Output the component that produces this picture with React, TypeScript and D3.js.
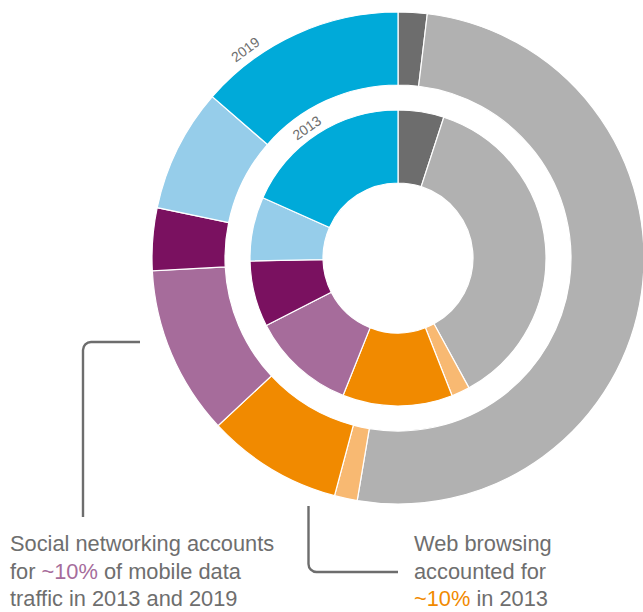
import React from "react";
import * as d3 from "d3";

const categories = [
  "Other",
  "Video",
  "Audio",
  "Web browsing",
  "Social networking",
  "Software download and update",
  "File sharing",
  "Encrypted",
];
const colors = [
  "#6d6d6d",
  "#b1b1b1",
  "#f8b972",
  "#f18a00",
  "#a66c9b",
  "#7a1160",
  "#96cdea",
  "#00aad9",
];
const values2013 = [5, 37, 2, 12, 11.4, 7.2, 7, 18.3];
const values2019 = [1.9, 50.7, 1.5, 8.9, 11.1, 4.1, 8.1, 13.6];
const yearLabels = ["2013", "2019"];

const W = 643;
const H = 612;
const cx = 398;
const cy = 258;

const rings = [
  { values: values2013, inner: 75, outer: 148, label: yearLabels[0], labelR: 154, labelA: -35 },
  { values: values2019, inner: 173, outer: 246, label: yearLabels[1], labelR: 253.5, labelA: -36.2 },
];

const textColor = "#6e6e6e";

export default function App() {
  const pie = d3
    .pie<number>()
    .sort(null)
    .value((d) => d)
    .startAngle(0)
    .endAngle(2 * Math.PI);

  const link1 = d3.path();
  link1.moveTo(140, 342);
  link1.lineTo(91, 342);
  link1.arcTo(83, 342, 83, 350, 8);
  link1.lineTo(83, 517);

  const link2 = d3.path();
  link2.moveTo(308.5, 506);
  link2.lineTo(308.5, 564);
  link2.arcTo(308.5, 572, 316.5, 572, 8);
  link2.lineTo(398, 572);

  const font = "'Liberation Sans', Arial, Helvetica, sans-serif";

  return (
    <svg
      width={W}
      height={H}
      style={{ position: "absolute", left: 0, top: 0, background: "#fff" }}
      fontFamily={font}
    >
      <g transform={`translate(${cx},${cy})`}>
        {rings.map((ring, ri) => {
          const arc = d3
            .arc<d3.PieArcDatum<number>>()
            .innerRadius(ring.inner)
            .outerRadius(ring.outer);
          const a = (ring.labelA * Math.PI) / 180;
          const lx = ring.labelR * Math.sin(a);
          const ly = -ring.labelR * Math.cos(a);
          return (
            <g key={ri}>
              {pie(ring.values).map((d, i) => (
                <path
                  key={categories[i]}
                  d={arc(d) || ""}
                  fill={colors[i]}
                  stroke="#ffffff"
                  strokeWidth={1.2}
                />
              ))}
              <text
                x={lx}
                y={ly}
                transform={`rotate(${ring.labelA},${lx},${ly})`}
                textAnchor="middle"
                fontSize={14}
                fill={textColor}
              >
                {ring.label}
              </text>
            </g>
          );
        })}
      </g>
      <path d={link1.toString()} fill="none" stroke="#6d6d6d" strokeWidth={2.4} />
      <path d={link2.toString()} fill="none" stroke="#6d6d6d" strokeWidth={2.4} />
      <g fontSize={21.8} fill={textColor}>
        <text x={10} y={551}>Social networking accounts</text>
        <text x={10} y={578.5}>
          for <tspan fill="#a66c9b">~10%</tspan> of mobile data
        </text>
        <text x={10} y={606}>traffic in 2013 and 2019</text>
        <text x={414} y={551}>Web browsing</text>
        <text x={414} y={578.5}>accounted for</text>
        <text x={414} y={606}>
          <tspan fill="#f18a00">~10%</tspan> in 2013
        </text>
      </g>
    </svg>
  );
}
